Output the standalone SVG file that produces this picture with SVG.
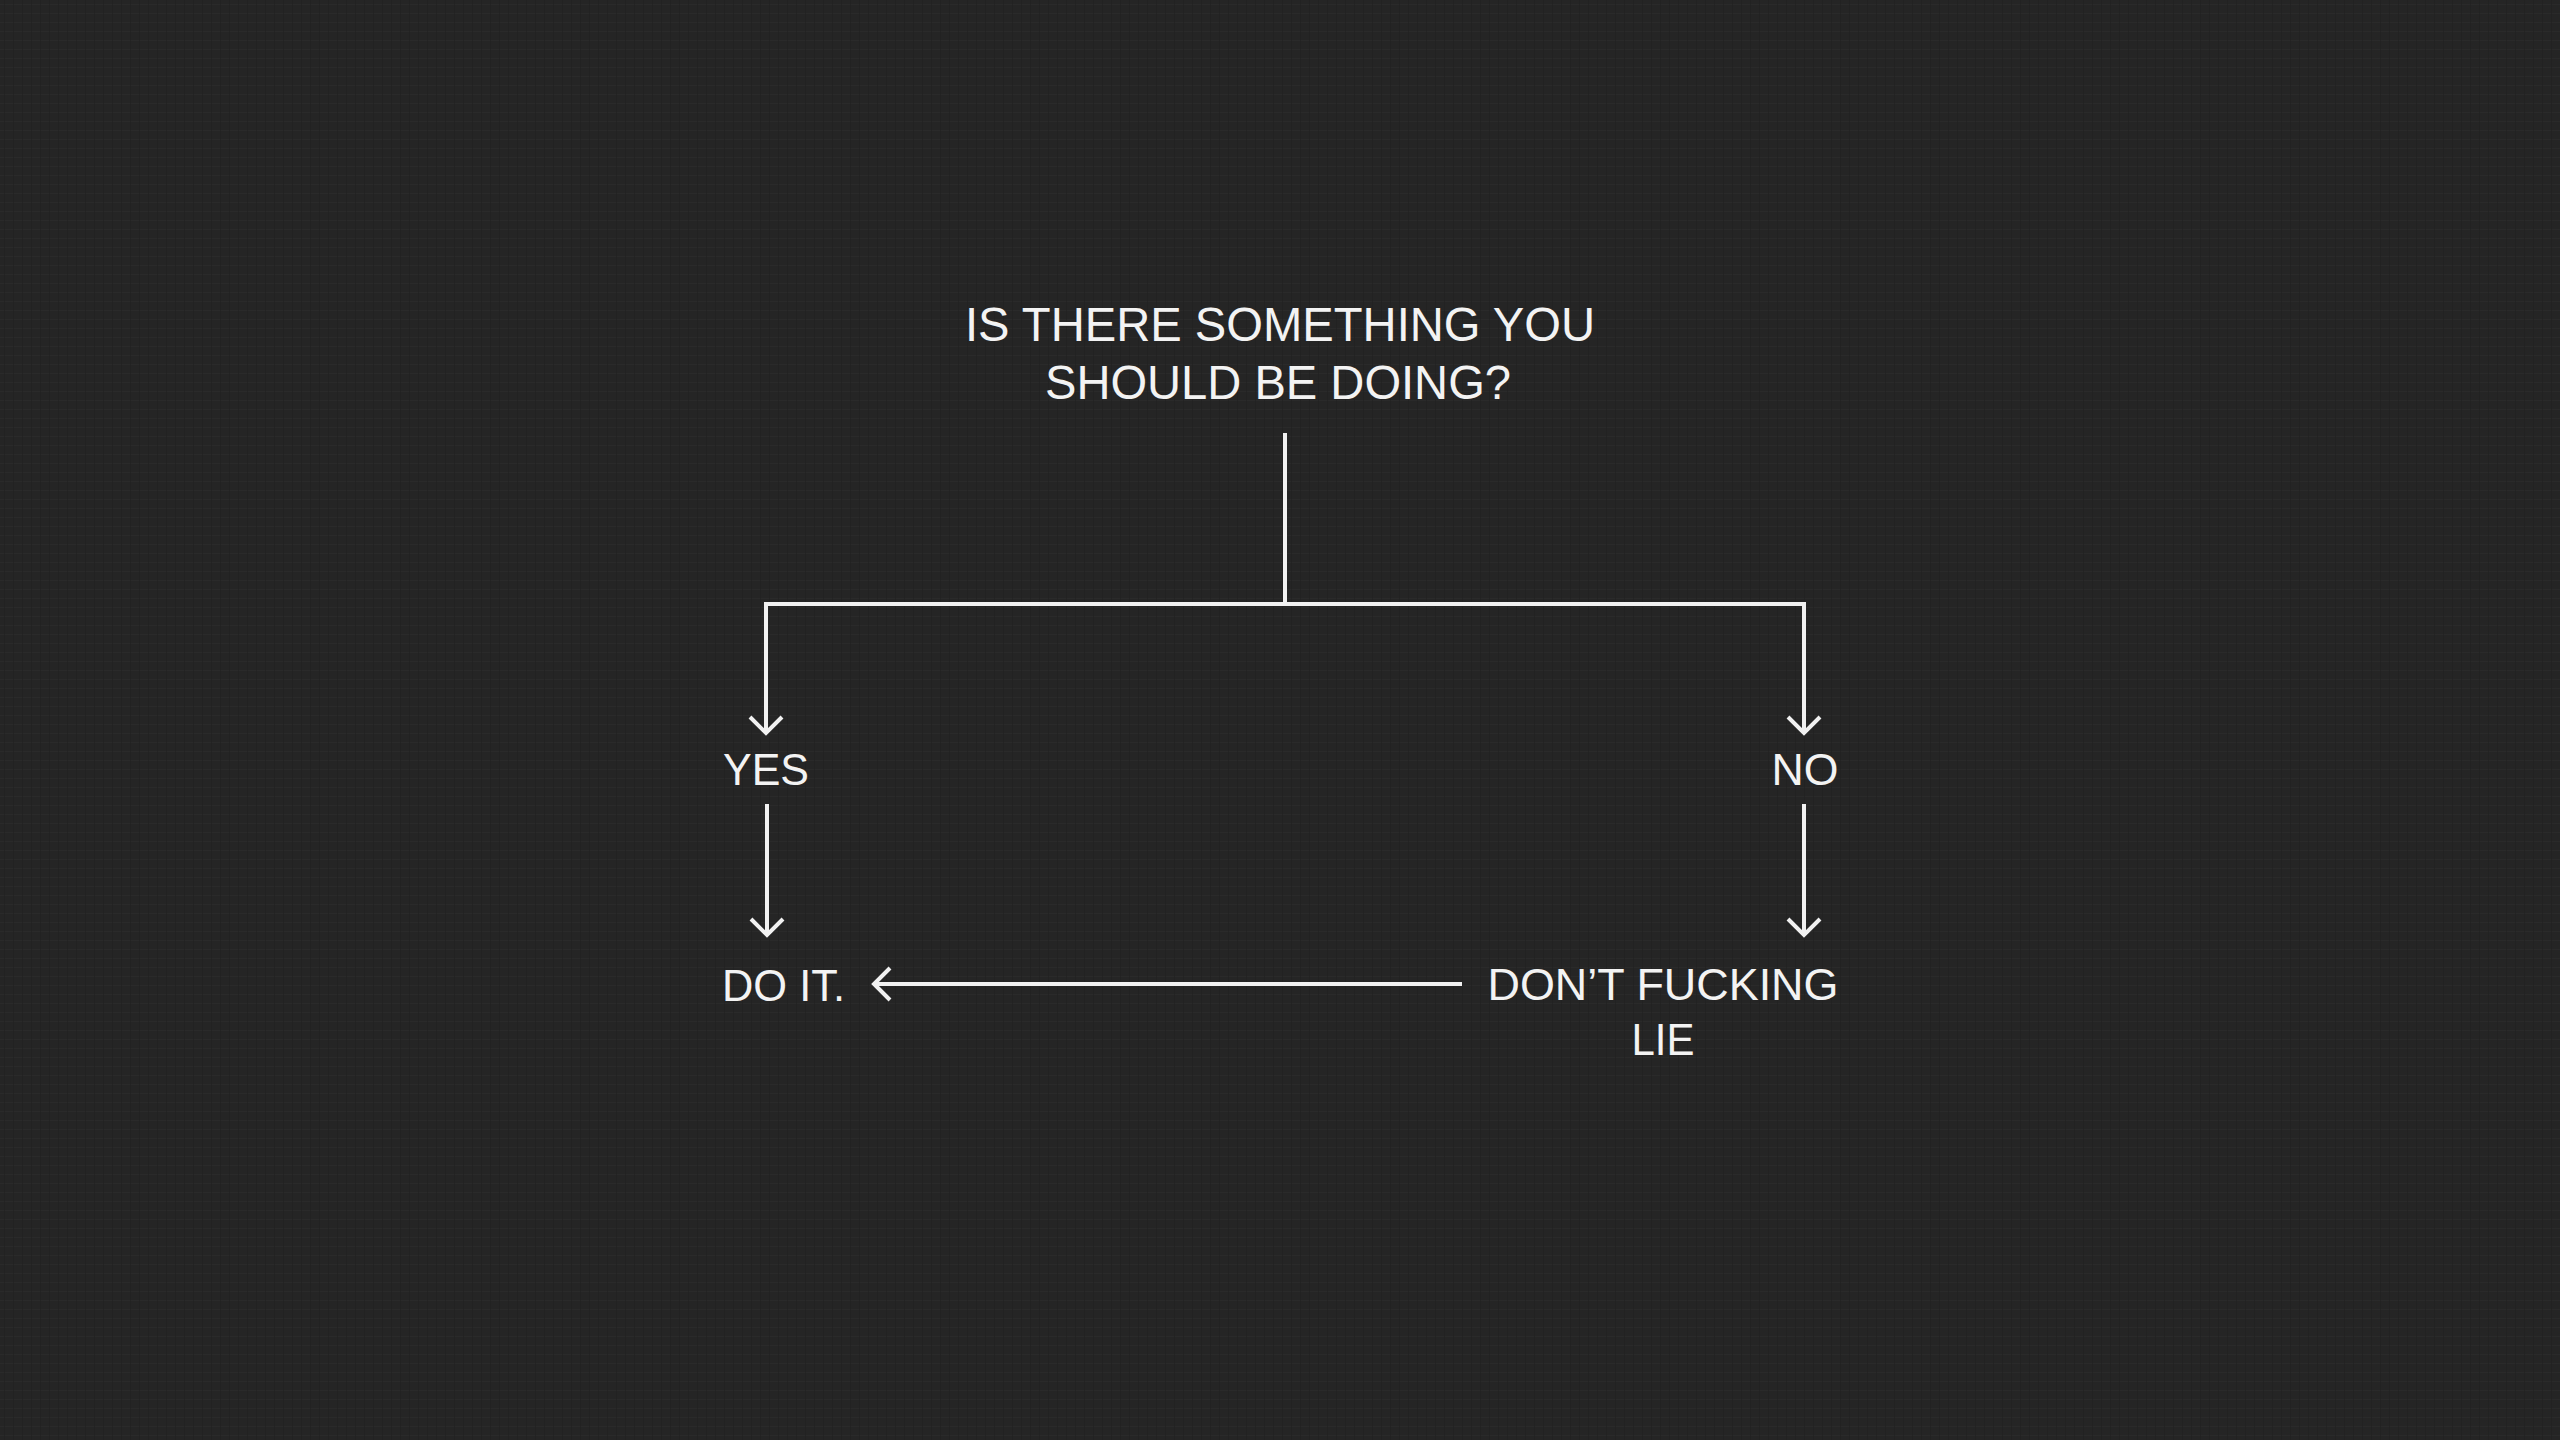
<svg xmlns="http://www.w3.org/2000/svg" width="2560" height="1440" viewBox="0 0 2560 1440">
  <style>
    .t { font-family: "Liberation Sans", Arial, sans-serif; fill: #f3f3f3; }
    .title { font-size: 48px; }
    .lbl { font-size: 45px; }
    .c { fill: none; stroke: #f1f1f1; stroke-width: 4; }
  </style>
  <defs>
    <marker id="arr" viewBox="-20 -20 24 40" refX="0" refY="0" markerWidth="24" markerHeight="40" markerUnits="userSpaceOnUse" orient="auto">
      <path d="M-16,-16 L0,0 L-16,16" fill="none" stroke="#f1f1f1" stroke-width="4"/>
    </marker>
    <pattern id="linen" width="9" height="9" patternUnits="userSpaceOnUse">
      <rect width="9" height="9" fill="#252525"/>
      <path d="M0,4.5 H9" stroke="#2c2c2c" stroke-width="1" opacity="0.6"/>
      <path d="M4.5,0 V9" stroke="#1f1f1f" stroke-width="1" opacity="0.6"/>
    </pattern>
  </defs>
  <rect width="2560" height="1440" fill="#252525"/>
  <rect width="2560" height="1440" fill="url(#linen)"/>

  <g id="connectors">
    <path class="c" d="M1285,433 V604"/>
    <path class="c" d="M766,604 H1804"/>
    <path class="c" d="M766,602 V733" marker-end="url(#arr)"/>
    <path class="c" d="M1804,602 V733" marker-end="url(#arr)"/>
    <path class="c" d="M767,804 V935" marker-end="url(#arr)"/>
    <path class="c" d="M1804,804 V935" marker-end="url(#arr)"/>
    <path class="c" d="M1462,984 H874" marker-end="url(#arr)"/>
  </g>

  <g id="question">
    <text class="t title" x="1280" y="341" text-anchor="middle" textLength="630" lengthAdjust="spacingAndGlyphs">IS THERE SOMETHING YOU</text>
    <text class="t title" x="1278" y="399" text-anchor="middle" textLength="466" lengthAdjust="spacingAndGlyphs">SHOULD BE DOING?</text>
  </g>
  <g id="yes">
    <text class="t lbl" x="766" y="785" text-anchor="middle" textLength="86" lengthAdjust="spacingAndGlyphs">YES</text>
  </g>
  <g id="no">
    <text class="t lbl" x="1805" y="785" text-anchor="middle" textLength="67" lengthAdjust="spacingAndGlyphs">NO</text>
  </g>
  <g id="do-it">
    <text class="t lbl" x="722" y="1001" textLength="123" lengthAdjust="spacingAndGlyphs">DO IT.</text>
  </g>
  <g id="dont-lie">
    <text class="t lbl" x="1663" y="1000" text-anchor="middle" textLength="351" lengthAdjust="spacingAndGlyphs">DON’T FUCKING</text>
    <text class="t lbl" x="1663" y="1055" text-anchor="middle" textLength="63" lengthAdjust="spacingAndGlyphs">LIE</text>
  </g>
</svg>
